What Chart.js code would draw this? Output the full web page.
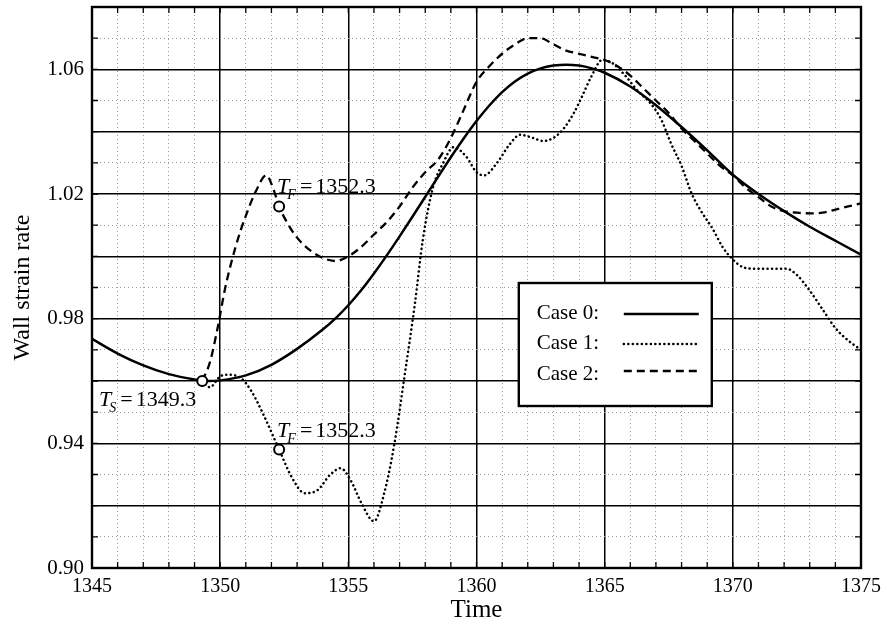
<!DOCTYPE html>
<html>
<head>
<meta charset="utf-8">
<script src="https://cdn.jsdelivr.net/npm/chart.js@4.4.0/dist/chart.umd.min.js"></script>
<style>
  body { margin: 0; background: #fff; }
  canvas { display: block; }
</style>
</head>
<body>
<canvas id="strainChart" width="883" height="627"></canvas>
<script>
// Wall strain rate vs time for the three cases
const time0 = [1345, 1346, 1347, 1348, 1349, 1349.5, 1350, 1351, 1352, 1353, 1354, 1354.5, 1355, 1355.5, 1356, 1356.5, 1357, 1357.5, 1358, 1358.5, 1359, 1359.5, 1360, 1360.5, 1361, 1361.5, 1362, 1362.5, 1363, 1363.5, 1364, 1364.5, 1365, 1366, 1367, 1368, 1369, 1370, 1371, 1372, 1373, 1374, 1375];
const case0 = [0.9735, 0.9688, 0.965, 0.9622, 0.9605, 0.960, 0.9602, 0.9618, 0.9652, 0.9703, 0.9765, 0.9801, 0.9843, 0.9891, 0.9945, 1.0003, 1.0064, 1.0127, 1.0191, 1.0255, 1.0318, 1.0378, 1.0434, 1.0484, 1.0527, 1.0561, 1.0586, 1.0603, 1.0612, 1.0615, 1.0612, 1.0603, 1.0589, 1.0545, 1.0485, 1.0415, 1.034, 1.0262, 1.020, 1.0145, 1.0095, 1.005, 1.0005];

const time1 = [1349.3, 1349.6, 1350.0, 1350.3, 1350.8, 1351.2, 1351.7, 1352.3, 1352.8, 1353.3, 1353.8, 1354.3, 1354.7, 1355.1, 1355.5, 1356.0, 1356.4, 1356.8, 1357.2, 1357.6, 1357.9, 1358.3, 1358.7, 1359.1, 1359.6, 1360.0, 1360.3, 1360.8, 1361.3, 1361.7, 1362.2, 1362.6, 1363.0, 1363.4, 1363.8, 1364.1, 1364.5, 1364.9, 1365.3, 1365.8, 1366.3, 1366.8, 1367.2, 1367.6, 1368.0, 1368.4, 1368.8, 1369.2, 1369.6, 1370.0, 1370.4, 1370.9, 1371.5, 1372.1, 1372.5, 1373.0, 1373.5, 1374.0, 1374.5, 1375.0];
const case1 = [0.960, 0.958, 0.9615, 0.962, 0.961, 0.957, 0.949, 0.938, 0.929, 0.924, 0.925, 0.930, 0.932, 0.928, 0.921, 0.915, 0.924, 0.940, 0.962, 0.985, 1.005, 1.022, 1.030, 1.035, 1.032, 1.027, 1.026, 1.030, 1.036, 1.039, 1.038, 1.037, 1.038, 1.041, 1.046, 1.051, 1.058, 1.063, 1.062, 1.058, 1.053, 1.049, 1.044, 1.036, 1.029, 1.020, 1.014, 1.009, 1.003, 0.999, 0.9965, 0.996, 0.996, 0.996, 0.994, 0.989, 0.983, 0.977, 0.973, 0.970];

const time2 = [1349.3, 1349.6, 1349.9, 1350.2, 1350.6, 1351.0, 1351.4, 1351.8, 1352.1, 1352.3, 1352.6, 1353.0, 1353.5, 1354.0, 1354.5, 1355.0, 1355.5, 1356.0, 1356.5, 1357.0, 1357.5, 1358.0, 1358.5, 1359.0, 1359.5, 1360.0, 1360.5, 1361.0, 1361.5, 1362.0, 1362.5, 1363.0, 1363.5, 1364.0, 1364.5, 1365.0, 1365.5, 1366.0, 1366.5, 1367.0, 1367.5, 1368.0, 1368.5, 1369.0, 1369.5, 1370.0, 1370.5, 1371.0, 1371.5, 1372.0, 1372.5, 1373.0, 1373.5, 1374.0, 1374.5, 1375.0];
const case2 = [0.960, 0.966, 0.977, 0.990, 1.003, 1.013, 1.021, 1.026, 1.021, 1.016, 1.011, 1.006, 1.002, 0.9995, 0.9985, 1.000, 1.003, 1.007, 1.011, 1.016, 1.022, 1.027, 1.031, 1.038, 1.047, 1.056, 1.061, 1.065, 1.068, 1.070, 1.070, 1.068, 1.066, 1.065, 1.064, 1.063, 1.061, 1.058, 1.054, 1.050, 1.046, 1.041, 1.037, 1.033, 1.029, 1.026, 1.022, 1.019, 1.016, 1.0145, 1.014, 1.0138, 1.014, 1.015, 1.016, 1.017];

// switching (T_S) and failure (T_F) instants
const markerTimes = [1349.3, 1352.3, 1352.3];
const markerValues = [0.960, 1.016, 0.938];
const markerSubs = ["S", "F", "F"];

const caseNames = ["Case 0:", "Case 1:", "Case 2:"];
const xTickLabels = [1345, 1350, 1355, 1360, 1365, 1370, 1375];
const yTickLabels = ["0.90", "0.94", "0.98", "1.02", "1.06"];

const serif = '"Liberation Serif", "Times New Roman", serif';

function toPoints(xs, ys) {
  return xs.map((x, i) => ({ x: x, y: ys[i] }));
}

const lineStyles = [
  { borderWidth: 2.5, borderDash: [] },
  { borderWidth: 2.5, borderDash: [0.1, 4.4], borderCapStyle: "round" },
  { borderWidth: 2.3, borderDash: [8, 5] },
];

const isMajorX = (v) => Math.round(v) % 5 === 0;
const isMajorY = (v) => Math.round(v * 100) % 2 === 0;

// frame, inward tick marks, point labels and the legend box
const decorations = {
  id: "decorations",
  afterDraw(chart) {
    const ctx = chart.ctx;
    const a = chart.chartArea;
    const xs = chart.scales.x;
    const ys = chart.scales.y;
    ctx.save();

    // small inward ticks
    ctx.strokeStyle = "#000";
    ctx.lineWidth = 1.3;
    ctx.beginPath();
    xs.ticks.forEach((t) => {
      const px = xs.getPixelForValue(t.value);
      ctx.moveTo(px, a.bottom);
      ctx.lineTo(px, a.bottom - 6);
      ctx.moveTo(px, a.top);
      ctx.lineTo(px, a.top + 6);
    });
    ys.ticks.forEach((t) => {
      const py = ys.getPixelForValue(t.value);
      ctx.moveTo(a.left, py);
      ctx.lineTo(a.left + 6, py);
      ctx.moveTo(a.right, py);
      ctx.lineTo(a.right - 6, py);
    });
    ctx.stroke();

    // plot frame
    ctx.lineWidth = 2.4;
    ctx.strokeRect(a.left, a.top, a.right - a.left, a.bottom - a.top);

    // T_S / T_F labels
    ctx.fillStyle = "#000";
    ctx.textBaseline = "alphabetic";
    markerTimes.forEach((t, i) => {
      const px = xs.getPixelForValue(t);
      const py = ys.getPixelForValue(markerValues[i]);
      const value = t.toFixed(1);
      ctx.font = "italic 22px " + serif;
      const wT = ctx.measureText("T").width;
      ctx.font = "italic 14px " + serif;
      const wS = ctx.measureText(markerSubs[i]).width;
      ctx.font = "22px " + serif;
      const wEq = ctx.measureText("=").width;
      const wV = ctx.measureText(value).width;
      const total = wT + wS + 2 + wEq + 3 + wV;
      let x0, y0;
      if (i === 0) {
        x0 = px - 6 - total;
        y0 = py + 25;
      } else {
        x0 = px - 2;
        y0 = py - 13;
      }
      ctx.font = "italic 22px " + serif;
      ctx.fillText("T", x0, y0);
      ctx.font = "italic 14px " + serif;
      ctx.fillText(markerSubs[i], x0 + wT - 2, y0 + 6);
      ctx.font = "22px " + serif;
      ctx.fillText("=", x0 + wT + wS + 2, y0);
      ctx.fillText(value, x0 + wT + wS + 2 + wEq + 3, y0);
    });

    // legend
    const lx = a.left + 0.555 * (a.right - a.left);
    const ly = a.top + 276;
    const lw = 193;
    const lh = 123;
    ctx.fillStyle = "#fff";
    ctx.fillRect(lx, ly, lw, lh);
    ctx.lineWidth = 2.4;
    ctx.strokeStyle = "#000";
    ctx.strokeRect(lx, ly, lw, lh);
    const textRows = [36, 66, 97];
    const lineRows = [31, 61, 88];
    caseNames.forEach((name, i) => {
      ctx.fillStyle = "#000";
      ctx.font = "21px " + serif;
      ctx.fillText(name, lx + 18, ly + textRows[i]);
      const st = lineStyles[i];
      ctx.beginPath();
      ctx.lineWidth = st.borderWidth;
      ctx.setLineDash(st.borderDash);
      ctx.lineCap = st.borderCapStyle || "butt";
      ctx.moveTo(lx + 105, ly + lineRows[i]);
      ctx.lineTo(lx + 180, ly + lineRows[i]);
      ctx.stroke();
      ctx.setLineDash([]);
      ctx.lineCap = "butt";
    });

    ctx.restore();
  },
};

const series = [toPoints(time0, case0), toPoints(time1, case1), toPoints(time2, case2)];

const datasets = series.map((pts, i) => Object.assign({
  label: caseNames[i],
  data: pts,
  borderColor: "#000",
  pointRadius: 0,
  fill: false,
  cubicInterpolationMode: "monotone",
  order: 2,
}, lineStyles[i]));

datasets.push({
  label: "markers",
  type: "scatter",
  data: toPoints(markerTimes, markerValues),
  showLine: false,
  pointRadius: 5,
  pointBackgroundColor: "#fff",
  pointBorderColor: "#000",
  pointBorderWidth: 2,
  order: 1,
});

const ctx = document.getElementById("strainChart").getContext("2d");
new Chart(ctx, {
  type: "line",
  data: { datasets: datasets },
  plugins: [decorations],
  options: {
    responsive: false,
    animation: false,
    layout: { padding: { top: 5, right: 22, left: 0, bottom: 0 } },
    plugins: {
      legend: { display: false },
      tooltip: { enabled: false },
    },
    scales: {
      x: {
        type: "linear",
        min: 1345,
        max: 1375,
        afterFit: (scale) => {
          scale.height = 59;
          scale.paddingLeft = 0;
          scale.paddingRight = 0;
        },
        ticks: {
          stepSize: 1,
          autoSkip: false,
          maxRotation: 0,
          padding: 7,
          color: "#000",
          font: { family: serif, size: 20 },
          callback: (v) => (xTickLabels.includes(Math.round(v)) && Math.abs(v - Math.round(v)) < 1e-6 ? String(Math.round(v)) : ""),
        },
        grid: {
          drawTicks: false,
          color: (c) => (c.tick && isMajorX(c.tick.value) ? "#000" : "#9a9a9a"),
          lineWidth: (c) => (c.tick && isMajorX(c.tick.value) ? 1.5 : 1),
        },
        border: {
          display: false,
          dash: (c) => (c.tick && !isMajorX(c.tick.value) ? [1, 3] : []),
        },
        title: {
          display: true,
          text: "Time",
          color: "#000",
          font: { family: serif, size: 25 },
          padding: { top: 0, bottom: 2 },
        },
      },
      y: {
        min: 0.9,
        max: 1.08,
        afterFit: (scale) => {
          scale.width = 92;
          scale.paddingTop = 0;
          scale.paddingBottom = 0;
        },
        ticks: {
          stepSize: 0.01,
          autoSkip: false,
          padding: 8,
          color: "#000",
          font: { family: serif, size: 21 },
          callback: (v) => {
            const s = v.toFixed(2);
            return yTickLabels.includes(s) ? s : "";
          },
        },
        grid: {
          drawTicks: false,
          color: (c) => (c.tick && isMajorY(c.tick.value) ? "#000" : "#9a9a9a"),
          lineWidth: (c) => (c.tick && isMajorY(c.tick.value) ? 1.5 : 1),
        },
        border: {
          display: false,
          dash: (c) => (c.tick && !isMajorY(c.tick.value) ? [1, 3] : []),
        },
        title: {
          display: true,
          text: "Wall strain rate",
          color: "#000",
          font: { family: serif, size: 24 },
          padding: { top: 8, bottom: 0 },
        },
      },
    },
  },
});
</script>
</body>
</html>
